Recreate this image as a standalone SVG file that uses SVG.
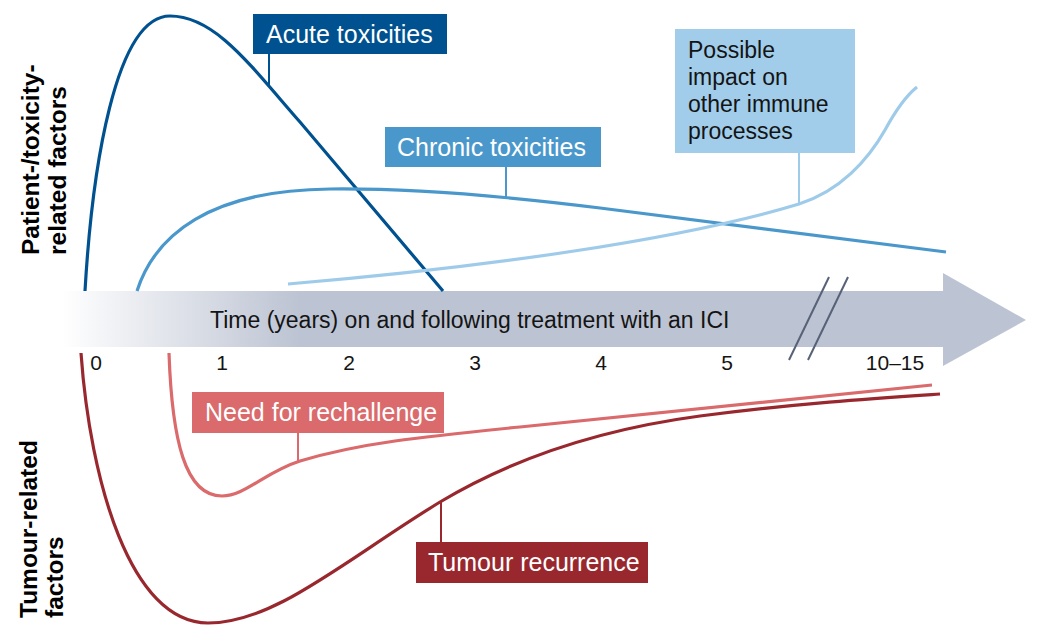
<svg xmlns="http://www.w3.org/2000/svg" width="1044" height="639" viewBox="0 0 1044 639">
<style>
.curve{fill:none;stroke-width:3.2;stroke-linecap:butt;stroke-linejoin:round}
.conn{fill:none;stroke-width:2}
.lbl{font-family:"Liberation Sans",Arial,sans-serif;font-size:25px;fill:#ffffff}
.dark{font-family:"Liberation Sans",Arial,sans-serif;fill:#141414}
.side{font-family:"Liberation Sans",Arial,sans-serif;font-size:24.5px;font-weight:bold;fill:#000000}
.tick{font-family:"Liberation Sans",Arial,sans-serif;font-size:21px;fill:#141414;text-anchor:middle}
</style>
<defs>
<linearGradient id="fade" gradientUnits="userSpaceOnUse" x1="62" y1="0" x2="300" y2="0">
<stop offset="0" stop-color="#bcc3d2" stop-opacity="0"/>
<stop offset="1" stop-color="#bcc3d2" stop-opacity="1"/>
</linearGradient>
</defs>
<rect width="1044" height="639" fill="#ffffff"/>

<g id="axis">
<path d="M62,291 L943,291 L943,273 L1026,320 L943,366 L943,347 L62,347 Z" fill="url(#fade)"/>
<line x1="829" y1="277" x2="789" y2="360" stroke="#576177" stroke-width="2"/>
<line x1="848" y1="277" x2="808" y2="360" stroke="#576177" stroke-width="2"/>
<text class="dark" x="210" y="328" font-size="23">Time (years) on and following treatment with an ICI</text>
<text class="tick" x="96" y="370">0</text>
<text class="tick" x="222" y="370">1</text>
<text class="tick" x="349" y="370">2</text>
<text class="tick" x="475" y="370">3</text>
<text class="tick" x="601" y="370">4</text>
<text class="tick" x="727" y="370">5</text>
<text class="tick" x="895" y="370">10–15</text>
</g>

<g id="side-labels">
<text class="side" transform="translate(39,255) rotate(-90)">Patient-/toxicity-</text>
<text class="side" transform="translate(66,255) rotate(-90)">related factors</text>
<text class="side" transform="translate(37,618) rotate(-90)">Tumour-related</text>
<text class="side" transform="translate(63,618) rotate(-90)">factors</text>
</g>

<g id="connectors">
<path class="curve" stroke="#00518f" d="M85,291 C92,170 115,16 170,16 C215,16 250,65 300,122 L443,291"/>
<path class="curve" stroke="#4a98cb" d="M137,291 C155,235 210,190 330,189 C420,188 520,198 600,208 L946,252"/>
<path class="curve" stroke="#9fcbea" d="M288,284 C480,268 680,240 799,204 C840,191 868,160 885,130 C897,108 907,95 917,87"/>
<path class="curve" stroke="#da6a6b" d="M169,353 C172,440 185,496 222,496 C245,496 265,472 300,461 C360,443 420,437 520,427 L932,385"/>
<path class="curve" stroke="#98282e" d="M81,353 C90,480 130,623 208,623 C275,623 345,560 440,502 C497,468 580,432 700,416 C800,403 880,398 940,394"/>
<line class="conn" stroke="#00518f" x1="269" y1="54" x2="269" y2="85"/>
<line class="conn" stroke="#4a98cb" x1="506" y1="167" x2="506" y2="197"/>
<line class="conn" stroke="#9fcbea" x1="799" y1="153" x2="799" y2="204"/>
<line class="conn" stroke="#da6a6b" x1="298" y1="433" x2="298" y2="461"/>
<line class="conn" stroke="#98282e" x1="441" y1="542" x2="441" y2="502"/>
</g>

<g id="acute">
<rect x="253" y="14" width="194" height="40" fill="#00518f"/>
<text class="lbl" x="266" y="43">Acute toxicities</text>
</g>
<g id="chronic">
<rect x="385" y="127" width="216" height="40" fill="#4a98cb"/>
<text class="lbl" x="397" y="156">Chronic toxicities</text>
</g>
<g id="possible">
<rect x="675" y="29" width="180" height="124" fill="#a1cdeb"/>
<text class="dark" font-size="23" x="688" y="58">Possible</text>
<text class="dark" font-size="23" x="688" y="85">impact on</text>
<text class="dark" font-size="23" x="688" y="112">other immune</text>
<text class="dark" font-size="23" x="688" y="139">processes</text>
</g>
<g id="rechallenge">
<rect x="192" y="392" width="252" height="41" fill="#da6a6b"/>
<text class="lbl" x="205" y="421">Need for rechallenge</text>
</g>
<g id="tumour">
<rect x="416" y="542" width="232" height="41" fill="#98282e"/>
<text class="lbl" x="428" y="571">Tumour recurrence</text>
</g>
</svg>
